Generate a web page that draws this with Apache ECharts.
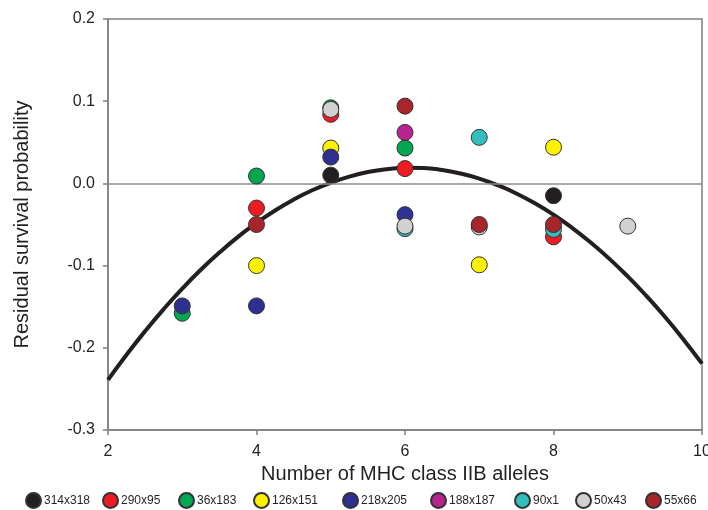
<!DOCTYPE html>
<html>
<head>
<meta charset="utf-8">
<script src="https://cdn.jsdelivr.net/npm/echarts@6/dist/echarts.min.js"></script>
<style>
  html, body { margin: 0; padding: 0; background: #ffffff; }
  #chart { width: 708px; height: 510px; }
</style>
</head>
<body>
<div id="chart"></div>
<script>
// Genotype groups (legend order)
const genotypes = ['314x318', '290x95', '36x183', '126x151', '218x205', '188x187', '90x1', '50x43', '55x66'];

// [number of MHC class IIB alleles, residual survival probability]
const g314x318 = [[5, 0.010], [8, -0.015]];
const g290x95  = [[4, -0.030], [5, 0.084], [6, 0.018], [8, -0.065]];
const g36x183  = [[3, -0.158], [4, 0.009], [5, 0.092], [6, 0.043]];
const g126x151 = [[4, -0.100], [5, 0.043], [7, -0.099], [8, 0.044]];
const g218x205 = [[3, -0.149], [4, -0.149], [5, 0.032], [6, -0.038]];
const g188x187 = [[6, 0.062]];
const g90x1    = [[6, -0.055], [7, 0.056], [8, -0.056]];
const g50x43   = [[5, 0.090], [6, -0.052], [7, -0.053], [9, -0.052]];
const g55x66   = [[4, -0.050], [6, 0.094], [7, -0.050], [8, -0.050]];

// Fitted quadratic trend, sampled every 0.25 alleles
const fitX = [2, 2.25, 2.5, 2.75, 3, 3.25, 3.5, 3.75, 4, 4.25, 4.5, 4.75, 5, 5.25, 5.5, 5.75,
              6, 6.25, 6.5, 6.75, 7, 7.25, 7.5, 7.75, 8, 8.25, 8.5, 8.75, 9, 9.25, 9.5, 9.75, 10];
const fitY = [-0.2390, -0.2084, -0.1797, -0.1529, -0.1280, -0.1051, -0.0842, -0.0651, -0.0481,
              -0.0329, -0.0197, -0.0084, 0.0009, 0.0083, 0.0138, 0.0173, 0.0189, 0.0186, 0.0163,
              0.0120, 0.0059, -0.0022, -0.0123, -0.0242, -0.0381, -0.0540, -0.0718, -0.0915,
              -0.1132, -0.1368, -0.1623, -0.1898, -0.2192];

const groupPoints = [g314x318, g290x95, g36x183, g126x151, g218x205, g188x187, g90x1, g50x43, g55x66];

// Styling
const palette = ['#231f20', '#ed1c24', '#00a651', '#fff200', '#2e3192', '#b8238f', '#33bdbd', '#d1d1d1', '#a8262b'];
const legendLeft = [25, 102, 178, 253, 342, 430, 514, 575, 645];
const FONT = '"Liberation Sans", Arial, Helvetica, sans-serif';
const AXIS_GRAY = '#808080';

const chart = echarts.init(document.getElementById('chart'), null, { renderer: 'canvas' });

const series = [{
  name: 'fit',
  type: 'line',
  data: fitX.map((x, i) => [x, fitY[i]]),
  smooth: true,
  showSymbol: false,
  silent: true,
  lineStyle: { color: '#231f20', width: 4 },
  z: 2,
  // horizontal reference line at zero residual
  markLine: {
    silent: true,
    symbol: ['none', 'none'],
    label: { show: false },
    lineStyle: { color: '#8c8c8c', width: 1.5, type: 'solid' },
    data: [{ yAxis: 0 }]
  }
}];

genotypes.forEach((name, i) => {
  series.push({
    name: name,
    type: 'scatter',
    data: groupPoints[i],
    symbol: 'circle',
    symbolSize: 16,
    itemStyle: { color: palette[i], borderColor: '#333333', borderWidth: 1, opacity: 1 },
    z: 3 + i
  });
});

const legends = genotypes.map((name, i) => ({
  data: [name],
  left: legendLeft[i],
  top: 492,
  icon: 'circle',
  itemWidth: 15,
  itemHeight: 15,
  itemGap: 0,
  padding: 0,
  selectedMode: false,
  textStyle: { fontFamily: FONT, fontSize: 12, color: '#231f20', padding: [0, 0, 0, -2] }
}));

chart.setOption({
  backgroundColor: '#ffffff',
  animation: false,
  legend: legends,
  grid: {
    left: 108, right: 6, top: 19, bottom: 80,
    outerBoundsMode: 'none',
    containLabel: false,
    show: true, borderColor: AXIS_GRAY, borderWidth: 1.5, backgroundColor: 'transparent'
  },
  xAxis: {
    type: 'value',
    min: 2, max: 10, interval: 2,
    name: 'Number of MHC class IIB alleles',
    nameLocation: 'middle',
    nameGap: 33,
    nameTextStyle: { fontFamily: FONT, fontSize: 20, color: '#231f20' },
    axisLine: { show: true, onZero: false, lineStyle: { color: AXIS_GRAY, width: 1.5 } },
    axisTick: { show: true, inside: false, length: 5, lineStyle: { color: AXIS_GRAY, width: 1.5 } },
    axisLabel: { margin: 14, fontFamily: FONT, fontSize: 16, color: '#231f20' },
    splitLine: { show: false }
  },
  yAxis: {
    type: 'value',
    min: -0.3, max: 0.2, interval: 0.1,
    name: 'Residual survival probability',
    nameLocation: 'middle',
    nameGap: 76,
    nameRotate: 90,
    nameTextStyle: { fontFamily: FONT, fontSize: 20, color: '#231f20' },
    axisLine: { show: true, onZero: false, lineStyle: { color: AXIS_GRAY, width: 1.5 } },
    axisTick: { show: true, inside: false, length: 5, lineStyle: { color: AXIS_GRAY, width: 1.5 } },
    axisLabel: {
      margin: 13, fontFamily: FONT, fontSize: 16, color: '#231f20',
      formatter: v => v.toFixed(1)
    },
    splitLine: { show: false }
  },
  series: series
});
</script>
</body>
</html>
